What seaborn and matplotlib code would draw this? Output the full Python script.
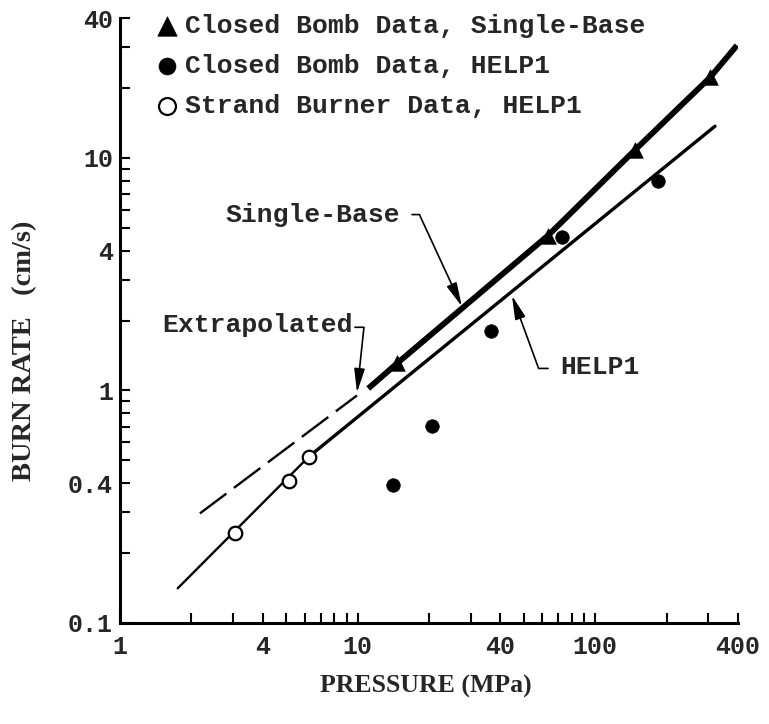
import matplotlib
matplotlib.use("Agg")
import matplotlib.pyplot as plt
import matplotlib.ticker as mticker
import seaborn as sns

# closed bomb data, single-base (triangles)
sb_pressure = [14.7, 63.4, 147, 305]
sb_rate = [1.31, 4.64, 10.8, 22.2]
# closed bomb data, HELP1 (filled circles)
cb_pressure = [14.1, 20.6, 36.5, 72.6, 184]
cb_rate = [0.394, 0.707, 1.81, 4.55, 8.0]
# strand burner data, HELP1 (open circles)
st_pressure = [3.05, 5.15, 6.25]
st_rate = [0.243, 0.41, 0.52]

# drawn curves
sb_line_p = [11.1, 14.7, 63.4, 147, 305, 396]
sb_line_r = [1.02, 1.31, 4.64, 10.8, 22.2, 30.5]
extrap_p = [2.17, 9.95]
extrap_r = [0.296, 0.952]
help_low_p = [1.75, 6.25]
help_low_r = [0.141, 0.52]
help_up_p = [6.25, 320]
help_up_r = [0.52, 13.7]

# axis ticks
x_major = [1, 4, 10, 40, 100, 400]
x_labels = ["1", "4", "10", "40", "100", "400"]
x_minor = [2, 3, 5, 6, 7, 8, 9, 20, 30, 50, 60, 70, 80, 90, 200, 300]
y_major = [0.1, 0.4, 1, 4, 10, 40]
y_labels = ["0.1", "0.4", "1", "4", "10", "40"]
y_minor = [0.2, 0.3, 0.5, 0.6, 0.7, 0.8, 0.9, 2, 3, 5, 6, 7, 8, 9, 20, 30]

sns.set_theme(style="ticks")
plt.rcParams["font.family"] = ["Liberation Mono", "DejaVu Sans"]

fig = plt.figure(figsize=(7.69, 7.24), dpi=100)
ax = fig.add_axes([120 / 769, 1 - 623 / 724, 618 / 769, 605 / 724])
ax.set_xscale("log")
ax.set_yscale("log")

# lines
sns.lineplot(x=extrap_p, y=extrap_r, ax=ax, color="black", linewidth=1.7,
             linestyle=(0, (14, 4)), estimator=None, sort=False)
sns.lineplot(x=sb_line_p, y=sb_line_r, ax=ax, color="black", linewidth=4.2,
             estimator=None, sort=False, solid_capstyle="butt")
sns.lineplot(x=help_low_p, y=help_low_r, ax=ax, color="black", linewidth=1.7,
             estimator=None, sort=False)
sns.lineplot(x=help_up_p, y=help_up_r, ax=ax, color="black", linewidth=2.4,
             estimator=None, sort=False)

# data points
sns.scatterplot(x=sb_pressure, y=sb_rate, ax=ax, marker="^", s=125, color="black",
                edgecolor="black", linewidth=0.5, zorder=4,
                label="Closed Bomb Data, Single-Base")
sns.scatterplot(x=cb_pressure, y=cb_rate, ax=ax, marker="o", s=95, color="black",
                edgecolor="black", linewidth=0.5, zorder=4,
                label="Closed Bomb Data, HELP1")
sns.scatterplot(x=st_pressure, y=st_rate, ax=ax, marker="o", s=95, color="white",
                edgecolor="black", linewidth=1.6, zorder=4,
                label="Strand Burner Data, HELP1")

ax.set_xlim(1, 400)
ax.set_ylim(0.1, 40)
sns.despine(ax=ax)
for side in ["left", "bottom"]:
    ax.spines[side].set_linewidth(2.2)
    ax.spines[side].set_color("black")

ax.xaxis.set_major_locator(mticker.FixedLocator(x_major))
ax.xaxis.set_minor_locator(mticker.FixedLocator(x_minor))
ax.xaxis.set_major_formatter(mticker.FixedFormatter(x_labels))
ax.xaxis.set_minor_formatter(mticker.NullFormatter())
ax.yaxis.set_major_locator(mticker.FixedLocator(y_major))
ax.yaxis.set_minor_locator(mticker.FixedLocator(y_minor))
ax.yaxis.set_major_formatter(mticker.FixedFormatter(y_labels))
ax.yaxis.set_minor_formatter(mticker.NullFormatter())
ax.tick_params(which="both", direction="in", length=7, width=1.5, color="black")
ax.tick_params(axis="x", which="major", labelsize=18, pad=9)
ax.tick_params(axis="y", which="major", labelsize=18, pad=5)
for lab in ax.get_xticklabels() + ax.get_yticklabels():
    lab.set_fontweight("bold")

ax.set_xlabel("PRESSURE (MPa)", fontsize=18.5, family="Liberation Serif", fontweight="bold")
ax.set_ylabel("BURN RATE   (cm/s)", fontsize=20.5, family="Liberation Serif", fontweight="bold")
ax.xaxis.set_label_coords(0.495, -0.085)
ax.yaxis.set_label_coords(-0.134, 0.45)

leg = ax.legend(loc="upper left", bbox_to_anchor=(0.059, 1.006), frameon=False,
                prop={"size": 19, "weight": "bold"}, markerscale=1.25,
                handlelength=0.8, handletextpad=0.3, labelspacing=0.6, borderpad=0,
                borderaxespad=0)

# annotations with leader arrows
arrow = dict(arrowstyle="-|>,head_length=0.8,head_width=0.18", color="black", lw=1.2,
             mutation_scale=18, shrinkA=0, shrinkB=0)
ax.text(2.77, 5.71, "Single-Base", fontsize=19, fontweight="bold", ha="left", va="center")
ax.annotate("", xy=(27.5, 2.3), xytext=(16.96, 5.71),
            arrowprops=dict(arrow, connectionstyle="angle,angleA=0,angleB=114.8,rad=0"))
ax.text(1.50, 1.92, "Extrapolated", fontsize=19, fontweight="bold", ha="left", va="center")
ax.annotate("", xy=(9.95, 0.98), xytext=(9.76, 1.87),
            arrowprops=dict(arrow, connectionstyle="angle,angleA=0,angleB=83.9,rad=0"))
ax.text(71.2, 1.256, "HELP1", fontsize=19, fontweight="bold", ha="left", va="center")
ax.annotate("", xy=(44.7, 2.56), xytext=(63.4, 1.244),
            arrowprops=dict(arrow, connectionstyle="angle,angleA=0,angleB=-69.9,rad=0"))

fig.savefig("out.png", dpi=100)
